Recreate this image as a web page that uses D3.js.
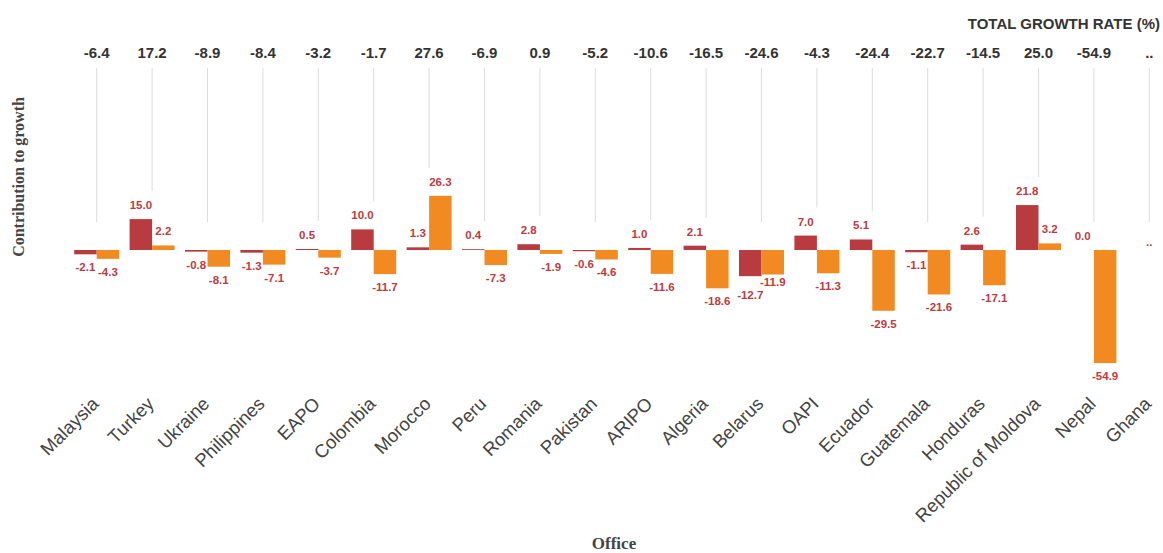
<!DOCTYPE html>
<html>
<head>
<meta charset="utf-8">
<script src="https://cdn.jsdelivr.net/npm/d3@7"></script>
<style>
  html, body { margin: 0; padding: 0; background: #fff; }
  svg { display: block; }
  text { font-family: "Liberation Sans", Arial, Helvetica, sans-serif; }
</style>
</head>
<body>
<svg id="chart" width="1163" height="553"></svg>
<script>
// Offices, left to right
const categories = ["Malaysia", "Turkey", "Ukraine", "Philippines", "EAPO", "Colombia",
  "Morocco", "Peru", "Romania", "Pakistan", "ARIPO", "Algeria", "Belarus", "OAPI",
  "Ecuador", "Guatemala", "Honduras", "Republic of Moldova", "Nepal", "Ghana"];

// Total growth rate (%) per office; null = not available ("..")
const totalGrowth = [-6.4, 17.2, -8.9, -8.4, -3.2, -1.7, 27.6, -6.9, 0.9, -5.2,
  -10.6, -16.5, -24.6, -4.3, -24.4, -22.7, -14.5, 25.0, -54.9, null];

// Contribution to growth: resident applicants
const residentContribution = [-2.1, 15.0, -0.8, -1.3, 0.5, 10.0, 1.3, 0.4, 2.8, -0.6,
  1.0, 2.1, -12.7, 7.0, 5.1, -1.1, 2.6, 21.8, 0.0, null];

// Contribution to growth: non-resident applicants
const nonResidentContribution = [-4.3, 2.2, -8.1, -7.1, -3.7, -11.7, 26.3, -7.3, -1.9, -4.6,
  -11.6, -18.6, -11.9, -11.3, -29.5, -21.6, -17.1, 3.2, -54.9, null];

const seriesKeys = ["resident", "nonResident"];
const seriesColor = { resident: "#b83b40", nonResident: "#f28a22" };
const labelColor = "#bf3a40";

const rows = categories.map((c, i) => ({
  office: c,
  total: totalGrowth[i],
  resident: residentContribution[i],
  nonResident: nonResidentContribution[i]
}));

const svg = d3.select("#chart");

const x = d3.scaleBand().domain(categories).range([69, 1177]).padding(0);
const x1 = d3.scaleBand().domain(seriesKeys).range([0, x.bandwidth()])
  .paddingInner(0).paddingOuter(0.231);
const y = d3.scaleLinear().domain([-60, 40]).range([373.6, 167.6]);

// one decimal, plain hyphen for negatives, ".." when not available
const fmt = v => (v === null ? ".." : v.toFixed(1));

// Connector lines from the total growth labels down towards each group
const lineTop = 68;
svg.append("g").selectAll("line")
  .data(rows)
  .join("line")
  .attr("x1", d => x(d.office) + x.bandwidth() / 2)
  .attr("x2", d => x(d.office) + x.bandwidth() / 2)
  .attr("y1", lineTop)
  .attr("y2", d => {
    const top = Math.max(0, d.resident || 0, d.nonResident || 0);
    return Math.min(228, y(top) - 28);
  })
  .attr("stroke", "#dcdcdc")
  .attr("stroke-width", 1);

// Total growth rate labels
svg.append("g").selectAll("text")
  .data(rows)
  .join("text")
  .attr("x", d => x(d.office) + x.bandwidth() / 2)
  .attr("y", 58)
  .attr("text-anchor", "middle")
  .attr("font-size", 15)
  .attr("font-weight", "bold")
  .attr("fill", "#333")
  .text(d => fmt(d.total));

svg.append("text")
  .attr("x", 1160)
  .attr("y", 29)
  .attr("text-anchor", "end")
  .attr("font-size", 15)
  .attr("font-weight", "bold")
  .attr("fill", "#333")
  .text("TOTAL GROWTH RATE (%)");

// Bars
const barData = rows.flatMap(d => seriesKeys.map(k => ({ office: d.office, key: k, value: d[k] })));

svg.append("g").selectAll("rect")
  .data(barData.filter(d => d.value !== null))
  .join("rect")
  .attr("x", d => x(d.office) + x1(d.key))
  .attr("width", x1.bandwidth())
  .attr("y", d => Math.min(y(0), y(d.value)))
  .attr("height", d => Math.abs(y(d.value) - y(0)))
  .attr("fill", d => seriesColor[d.key]);

// Value label positions, with the two labels of a group pushed apart
// vertically when long negative labels would collide
const labelData = barData.filter(d => d.value !== null).map(d => ({
  ...d,
  lx: x(d.office) + x1(d.key) + x1.bandwidth() / 2,
  ly: d.value >= 0 ? y(d.value) - 10 : y(d.value) + 17
}));
d3.groups(labelData, d => d.office).forEach(([, pair]) => {
  if (pair.length !== 2) return;
  const [a, b] = pair;
  const wide = Math.abs(a.value) >= 10 && Math.abs(b.value) >= 10;
  if (a.value < 0 && b.value < 0 && wide && Math.abs(a.ly - b.ly) < 12) {
    const mid = (a.ly + b.ly) / 2;
    const lower = a.ly >= b.ly ? a : b;
    const upper = lower === a ? b : a;
    lower.ly = mid + 6.5;
    upper.ly = mid - 6.5;
  }
});

svg.append("g").selectAll("text")
  .data(labelData)
  .join("text")
  .attr("x", d => d.lx)
  .attr("y", d => d.ly)
  .attr("text-anchor", "middle")
  .attr("font-size", 11.5)
  .attr("font-weight", "bold")
  .attr("fill", labelColor)
  .text(d => fmt(d.value));

// Not-available marker
svg.append("g").selectAll("text")
  .data(rows.filter(d => d.resident === null))
  .join("text")
  .attr("x", d => x(d.office) + x.bandwidth() / 2)
  .attr("y", y(0) - 4)
  .attr("text-anchor", "middle")
  .attr("font-size", 11.5)
  .attr("font-weight", "bold")
  .attr("fill", labelColor)
  .text("..");

// Office axis labels
const xAxis = d3.axisBottom(x).tickSize(0).tickPadding(0);
const gx = svg.append("g").call(xAxis);
gx.select(".domain").remove();
gx.selectAll(".tick text")
  .attr("y", 0)
  .attr("dy", 0)
  .attr("transform", "translate(3,405) rotate(-45)")
  .attr("text-anchor", "end")
  .attr("font-family", "\"Liberation Sans\", Arial, sans-serif")
  .attr("font-size", 18.5)
  .attr("fill", "#444");

// Axis titles
svg.append("text")
  .attr("transform", "translate(24,177) rotate(-90)")
  .attr("text-anchor", "middle")
  .style("font-family", "\"Liberation Serif\", Georgia, serif")
  .attr("font-size", 16)
  .attr("font-weight", "bold")
  .attr("fill", "#444")
  .text("Contribution to growth");

svg.append("text")
  .attr("x", 614)
  .attr("y", 549)
  .attr("text-anchor", "middle")
  .style("font-family", "\"Liberation Serif\", Georgia, serif")
  .attr("font-size", 17)
  .attr("font-weight", "bold")
  .attr("fill", "#444")
  .text("Office");
</script>
</body>
</html>
